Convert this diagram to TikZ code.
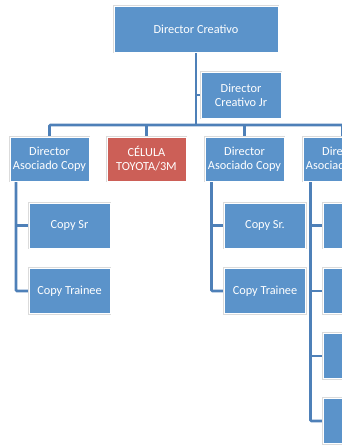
\documentclass[tikz,border=0pt]{standalone}
\usepackage{fontspec}
\setmainfont{Carlito}
\usetikzlibrary{backgrounds}
\definecolor{boxblue}{HTML}{5B93CA}
\definecolor{boxred}{HTML}{CC5F57}
\definecolor{linkblue}{HTML}{4E80B8}
\begin{document}
\begin{tikzpicture}[x=1pt,y=-1pt,
  box/.style={rectangle, fill=boxblue, draw=white, line width=1pt,
    preaction={draw=black!14, line width=2.6pt},
    text=white, align=center, inner sep=0pt,
    font=\fontsize{12.3}{14}\selectfont,
    minimum width=79pt, minimum height=44pt},
  redbox/.style={box, fill=boxred},
  subbox/.style={box, minimum width=81pt, minimum height=45pt},
  link/.style={draw=linkblue, line width=2.6pt, rounded corners=1pt}]
\useasboundingbox (0,0) rectangle (342,447);
\clip (0,0) rectangle (342,447);

% top level
\node[box, minimum width=164pt, minimum height=46pt] (dc) at (196,29) {Director Creativo};
\node[box, minimum width=80pt, minimum height=46pt] (jr) at (241,95) {Director\\Creativo Jr};

% second level
\node[box]    (da1) at (49.5,159)  {Director\\Asociado Copy};
\node[redbox] (cel) at (146.5,159) {CÉLULA\\TOYOTA/3M};
\node[box]    (da3) at (244.5,159) {Director\\Asociado Copy};
\node[box]    (da4) at (342.5,159) {Director\\Asociado Copy};

% third level
\node[subbox] (c1a) at (69.5,225.5) {Copy Sr};
\node[subbox] (c1b) at (69.5,291)   {Copy Trainee};
\node[subbox] (c3a) at (265,225.5)  {Copy Sr.};
\node[subbox] (c3b) at (265,291)    {Copy Trainee};
\node[subbox] (c4a) at (363.5,225.5) {};
\node[subbox] (c4b) at (363.5,291)   {};
\node[subbox] (c4c) at (363.5,356)   {};
\node[subbox] (c4d) at (363.5,421)   {};

\begin{scope}[on background layer]
  \coordinate (bar) at (0,125);
  % spine from the top box
  \draw[link] (dc.south) -- (dc.south |- bar);
  \draw[link] (dc.south |- jr.west) -- (jr.west);
  \draw[link] (da1.north) -- (da1.north |- bar) -- (da4.north |- bar) -- (da4.north);
  \draw[link] (cel.north) -- (cel.north |- bar);
  \draw[link] (da3.north) -- (da3.north |- bar);

  % branches under each associate director
  \coordinate (v1) at ([xshift=6.5pt]da1.south west);
  \coordinate (v3) at ([xshift=7pt]da3.south west);
  \coordinate (v4) at ([xshift=8pt]da4.south west);
  \draw[link] (v1) |- (c1b.west);
  \draw[link] (v1 |- c1a.west) -- (c1a.west);
  \draw[link] (v3) |- (c3b.west);
  \draw[link] (v3 |- c3a.west) -- (c3a.west);
  \draw[link] (v4) |- (c4d.west);
  \draw[link] (v4 |- c4a.west) -- (c4a.west);
  \draw[link] (v4 |- c4b.west) -- (c4b.west);
  \draw[link] (v4 |- c4c.west) -- (c4c.west);
\end{scope}
\end{tikzpicture}
\end{document}
